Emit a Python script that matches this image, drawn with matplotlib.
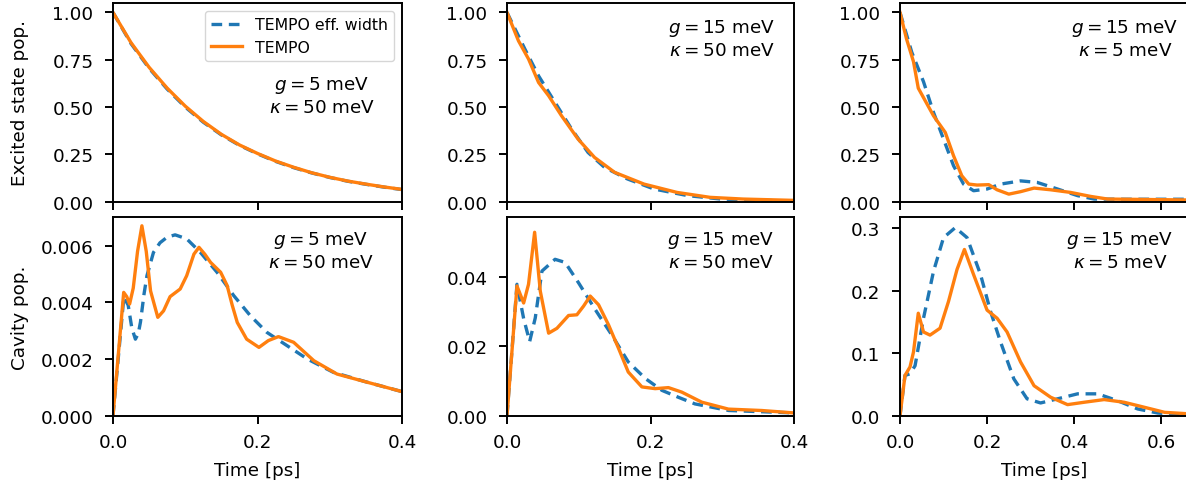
import matplotlib
matplotlib.use("Agg")
import matplotlib.pyplot as plt

plt.rcParams["font.size"] = 13.2
plt.rcParams["axes.linewidth"] = 1.4

BLUE = plt.cm.tab10(0)
ORANGE = plt.cm.tab10(1)

# --- excited state population (top row) ---
t_ex1 = [0, 0.025, 0.05, 0.075, 0.1, 0.125, 0.15, 0.175, 0.2, 0.225, 0.25,
         0.275, 0.3, 0.325, 0.35, 0.375, 0.4]
ex1_eff = [1.0, 0.835, 0.705, 0.595, 0.50, 0.42, 0.353, 0.298, 0.253, 0.213,
           0.18, 0.152, 0.128, 0.108, 0.092, 0.077, 0.064]
ex1_tempo = [1.0, 0.84, 0.71, 0.60, 0.505, 0.424, 0.356, 0.30, 0.255, 0.215,
             0.182, 0.153, 0.129, 0.109, 0.093, 0.078, 0.065]

t_ex2_eff = [0, 0.025, 0.044, 0.067, 0.09, 0.113, 0.136, 0.168, 0.205, 0.252,
             0.298, 0.353, 0.4]
ex2_eff = [1.0, 0.806, 0.665, 0.524, 0.384, 0.26, 0.181, 0.12, 0.067, 0.032,
           0.014, 0.007, 0.004]
t_ex2_tempo = [0, 0.016, 0.03, 0.044, 0.058, 0.076, 0.099, 0.122, 0.15, 0.191,
               0.237, 0.283, 0.329, 0.4]
ex2_tempo = [1.0, 0.85, 0.754, 0.63, 0.56, 0.454, 0.331, 0.234, 0.155, 0.093,
             0.049, 0.023, 0.014, 0.007]

t_ex3_eff = [0, 0.027, 0.054, 0.077, 0.1, 0.123, 0.146, 0.169, 0.2, 0.231,
             0.277, 0.315, 0.362, 0.408, 0.446, 0.515, 0.664]
ex3_eff = [1.0, 0.79, 0.634, 0.472, 0.331, 0.19, 0.093, 0.058, 0.067, 0.093,
           0.11, 0.102, 0.067, 0.032, 0.014, 0.013, 0.013]
t_ex3_tempo = [0, 0.015, 0.031, 0.042, 0.054, 0.077, 0.104, 0.123, 0.142,
               0.158, 0.177, 0.204, 0.223, 0.25, 0.277, 0.308, 0.346, 0.392,
               0.438, 0.477, 0.554, 0.664]
ex3_tempo = [1.0, 0.86, 0.74, 0.60, 0.55, 0.454, 0.366, 0.243, 0.137, 0.093,
             0.088, 0.09, 0.063, 0.04, 0.053, 0.072, 0.063, 0.049, 0.028,
             0.014, 0.012, 0.009]

# --- cavity population (bottom row) ---
t_cav1_eff = [0, 0.015, 0.021, 0.026, 0.031, 0.035, 0.038, 0.043, 0.047,
              0.056, 0.065, 0.075, 0.086, 0.102, 0.121, 0.144, 0.167, 0.19,
              0.213, 0.241, 0.269, 0.305, 0.352, 0.4]
cav1_eff = [0, 0.00418, 0.0039, 0.0031, 0.0027, 0.0029, 0.0033, 0.0043,
            0.00494, 0.00576, 0.0061, 0.0063, 0.00638, 0.00624, 0.00576,
            0.00506, 0.00424, 0.00353, 0.00294, 0.00247, 0.002, 0.00153,
            0.00118, 0.00085]
t_cav1_tempo = [0, 0.0148, 0.019, 0.023, 0.028, 0.034, 0.040, 0.046, 0.052,
                0.062, 0.070, 0.079, 0.093, 0.102, 0.112, 0.119, 0.127, 0.135,
                0.149, 0.158, 0.165, 0.172, 0.185, 0.202, 0.215, 0.229, 0.25,
                0.278, 0.31, 0.352, 0.4]
cav1_tempo = [0, 0.00435, 0.0042, 0.00394, 0.0045, 0.0058, 0.0067, 0.0058,
              0.0044, 0.00347, 0.0037, 0.0042, 0.00447, 0.00494, 0.0057,
              0.00594, 0.0057, 0.00541, 0.00506, 0.00459, 0.0039, 0.00329,
              0.0027, 0.00241, 0.00265, 0.00279, 0.00259, 0.00194, 0.00147,
              0.00118, 0.00085]

t_cav2_eff = [0, 0.0139, 0.0232, 0.0316, 0.0394, 0.0487, 0.067, 0.081,
              0.0998, 0.123, 0.146, 0.169, 0.193, 0.216, 0.239, 0.262, 0.309,
              0.4]
cav2_eff = [0, 0.0379, 0.028, 0.0214, 0.0282, 0.0417, 0.0451, 0.0442, 0.0383,
            0.0306, 0.0233, 0.0155, 0.0107, 0.0073, 0.0053, 0.0034, 0.0015,
            0.0008]
t_cav2_tempo = [0, 0.0139, 0.0232, 0.030, 0.0385, 0.0464, 0.058, 0.0696,
                0.0858, 0.0974, 0.1067, 0.116, 0.1276, 0.1415, 0.1555, 0.169,
                0.188, 0.2065, 0.225, 0.2436, 0.2715, 0.3086, 0.355, 0.4]
cav2_tempo = [0, 0.0374, 0.0325, 0.0379, 0.0529, 0.0359, 0.0238, 0.0252,
              0.0289, 0.0291, 0.0316, 0.0345, 0.032, 0.0262, 0.0194, 0.0126,
              0.0083, 0.0078, 0.0081, 0.0068, 0.0039, 0.0019, 0.0015, 0.0008]

t_cav3_eff = [0, 0.0115, 0.023, 0.0346, 0.054, 0.077, 0.1, 0.127, 0.154,
              0.185, 0.208, 0.231, 0.2615, 0.292, 0.323, 0.362, 0.408, 0.454,
              0.5, 0.546, 0.592, 0.664]
cav3_eff = [0, 0.0645, 0.067, 0.08, 0.156, 0.231, 0.285, 0.301, 0.285, 0.226,
            0.167, 0.118, 0.059, 0.027, 0.0204, 0.027, 0.035, 0.035, 0.024,
            0.0108, 0.0043, 0.001]
t_cav3_tempo = [0, 0.0115, 0.023, 0.031, 0.042, 0.054, 0.069, 0.092, 0.1115,
                0.131, 0.148, 0.169, 0.2, 0.223, 0.246, 0.277, 0.308, 0.346,
                0.385, 0.423, 0.469, 0.515, 0.562, 0.608, 0.664]
cav3_tempo = [0, 0.0645, 0.078, 0.102, 0.164, 0.134, 0.129, 0.14, 0.183,
              0.234, 0.266, 0.226, 0.169, 0.156, 0.134, 0.086, 0.048, 0.0296,
              0.0177, 0.0215, 0.0258, 0.0215, 0.0134, 0.0054, 0.003]

labels = ["$g = 5$ meV\n$\\kappa = 50$ meV",
          "$g = 15$ meV\n$\\kappa = 50$ meV",
          "$g = 15$ meV\n$\\kappa = 5$ meV"]

top_data = [(t_ex1, ex1_eff, t_ex1, ex1_tempo),
            (t_ex2_eff, ex2_eff, t_ex2_tempo, ex2_tempo),
            (t_ex3_eff, ex3_eff, t_ex3_tempo, ex3_tempo)]
bottom_data = [(t_cav1_eff, cav1_eff, t_cav1_tempo, cav1_tempo),
               (t_cav2_eff, cav2_eff, t_cav2_tempo, cav2_tempo),
               (t_cav3_eff, cav3_eff, t_cav3_tempo, cav3_tempo)]

W, H = 1186, 489
fig = plt.figure(figsize=(W / 100, H / 100), dpi=100)

lefts = [113, 507, 900]
widths = [289, 287, 289]
xmax = [0.4, 0.4, 0.664]
cav_top = [0.00701, 0.0573, 0.318]
# text block centres in pixels (top row, bottom row)
txt_top = [(322, 96), (722, 39), (1125, 39)]
txt_bot = [(321, 251), (721, 251), (1120, 251)]

for col in range(3):
    for row in range(2):
        y0 = 202.7 if row == 0 else 416.7
        ax = fig.add_axes([lefts[col] / W, 1 - y0 / H, widths[col] / W, 198.7 / H])
        te, ve, tt, vt = (top_data if row == 0 else bottom_data)[col]
        ax.plot(te, ve, color=BLUE, lw=2.4, ls=(0, (3.2, 2.0)),
                label="TEMPO eff. width")
        ax.plot(tt, vt, color=ORANGE, lw=2.4, label="TEMPO")
        ax.set_xlim(0, xmax[col])
        ax.set_xticks([0, 0.2, 0.4] if col < 2 else [0, 0.2, 0.4, 0.6])
        ax.tick_params(axis="y", length=6, width=1.4, pad=8)
        ax.tick_params(axis="x", length=6, width=1.4, pad=6.5)
        if row == 0:
            ax.set_ylim(0, 1.05)
            ax.set_xticklabels([])
            cx, cy = txt_top[col]
        else:
            ax.set_ylim(0, cav_top[col])
            ax.set_xlabel("Time [ps]", labelpad=7)
            cx, cy = txt_bot[col]
        fig.text(cx / W, 1 - cy / H, labels[col], ha="center", va="center",
                 multialignment="center")
        if col == 0:
            ax.set_ylabel("Excited state pop." if row == 0 else "Cavity pop.")
            # both y labels sit on the same vertical line
            ax.yaxis.set_label_coords((29 - 113) / 289, 0.5)
            if row == 0:
                ax.legend(loc="upper right", fontsize=11.3)

fig.savefig("out.png", dpi=100)
